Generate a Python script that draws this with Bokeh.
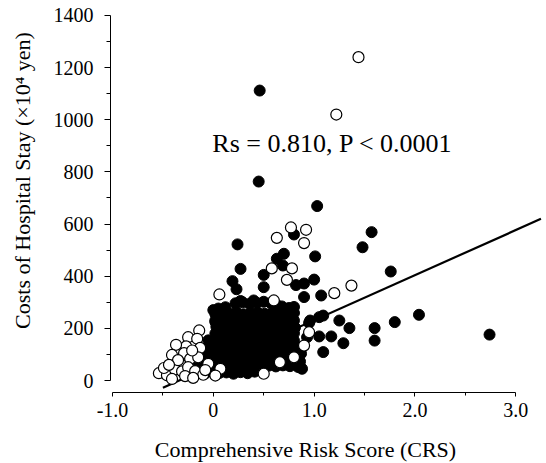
import math
from bokeh.plotting import figure
from bokeh.layouts import column, row
from bokeh.models import FixedTicker, Range1d, Label
from bokeh.embed import file_html
from bokeh.resources import INLINE

# ---- data ----
# scattered filled points
filled_crs = [
    0.46, 0.45, 1.03, 0.80, 0.24, 1.57, 1.48, 1.01, 1.76, 0.70,
    0.63, 0.69, 0.50, 0.50, 0.27, 0.19, 0.23, 0.82, 0.90, 1.00,
    1.07, 0.90, 0.00, 0.02, 0.27, 0.40, 2.04, 1.80, 1.60, 1.60,
    2.74, 1.09, 1.05, 1.25, 1.35, 1.17, 1.29, 1.09, 1.05, 0.95,
    0.86, 0.88, 0.96, 0.93, 0.86, 0.86,
]
filled_cost = [
    1112, 763, 669, 560, 522, 569, 511, 476, 418, 486,
    467, 441, 405, 358, 428, 381, 350, 366, 372, 387,
    326, 320, 270, 225, 305, 307, 252, 224, 201, 153,
    176, 249, 243, 230, 201, 169, 143, 109, 169, 221,
    73, 45, 230, 166, 109, 51,
]

# dense cluster of filled points
blob_crs = [
    0.22, 0.29, 0.36, 0.43, 0.50, 0.57, 0.62,
    0.05, 0.12, 0.68, 0.75, 0.80,
    0.02, 0.09, 0.16, 0.23, 0.30, 0.37, 0.44, 0.51, 0.58, 0.65, 0.72, 0.80,
    0.02, 0.09, 0.16, 0.23, 0.30, 0.37, 0.44, 0.51, 0.58, 0.65, 0.72, 0.80,
    0.03, 0.10, 0.17, 0.24, 0.31, 0.38, 0.45, 0.52, 0.59, 0.66, 0.73, 0.81,
    0.02, 0.09, 0.16, 0.23, 0.30, 0.37, 0.44, 0.51, 0.58, 0.65, 0.72, 0.80,
    -0.05, 0.02, 0.09, 0.16, 0.23, 0.30, 0.37, 0.44, 0.51, 0.58, 0.65, 0.72, 0.80,
    -0.05, 0.02, 0.09, 0.16, 0.23, 0.30, 0.37, 0.44, 0.51, 0.58, 0.65, 0.72, 0.80, 0.87,
    -0.05, 0.02, 0.09, 0.16, 0.23, 0.30, 0.37, 0.44, 0.51, 0.58, 0.65, 0.72, 0.80, 0.87,
    -0.15, -0.08, -0.01, 0.06, 0.13, 0.20, 0.27, 0.34, 0.41, 0.48, 0.55, 0.62, 0.69, 0.76, 0.84,
    -0.15, -0.08, -0.01, 0.06, 0.13, 0.20, 0.27, 0.34, 0.41, 0.48, 0.55, 0.62, 0.69, 0.76, 0.84,
    -0.15, -0.08, -0.01, 0.06, 0.13, 0.20, 0.27, 0.34, 0.41,
]
blob_cost = [
    296, 300, 294, 298, 302, 297, 293,
    276, 281, 284, 278, 282,
    255, 260, 257, 262, 254, 259, 261, 256, 258, 263, 255, 259,
    230, 234, 228, 233, 236, 229, 231, 235, 232, 227, 233, 230,
    206, 203, 208, 205, 201, 207, 204, 209, 202, 206, 205, 203,
    180, 177, 183, 179, 181, 176, 182, 178, 180, 184, 177, 181,
    154, 151, 156, 153, 157, 150, 155, 152, 158, 154, 151, 156, 153,
    128, 131, 125, 129, 127, 132, 126, 130, 128, 124, 131, 127, 129, 126,
    102, 99, 105, 101, 104, 98, 103, 100, 106, 102, 99, 104, 101, 103,
    76, 79, 73, 77, 80, 74, 78, 75, 81, 76, 73, 79, 77, 74, 78,
    52, 49, 55, 51, 54, 48, 53, 50, 56, 52, 57, 54, 58, 55, 52,
    30, 27, 33, 29, 31, 26, 32, 28, 34,
]

# open points
open_crs = [
    1.44, 1.22, 0.77, 0.92, 0.63, 0.90, 1.37, 1.20, 0.73, 0.78,
    0.58, 0.60, 0.06, 0.50, 0.66, 0.80, 0.90, 0.95, 0.07,
    -0.14, -0.25, -0.16, -0.13, -0.27, -0.37, -0.29, -0.41, -0.23, -0.33,
    -0.15, -0.54, -0.46, -0.49, -0.38, -0.31, -0.25, -0.18, -0.41, -0.28,
    -0.10, -0.05, 0.02, -0.21, -0.35, -0.44, -0.20, -0.08,
]
open_cost = [
    1240, 1020, 587, 578, 547, 527, 364, 335, 386, 430,
    430, 307, 330, 26, 70, 89, 134, 185, 45,
    192, 166, 160, 125, 131, 137, 105, 98, 83, 65,
    89, 28, 20, 48, 42, 35, 51, 36, 6, 17,
    22, 64, 19, 115, 78, 60, 10, 40,
]

# regression line end points
fit_crs = [-0.50, 3.25]
fit_cost = [-28, 620]

x_ticks = [-1, 0, 1, 2, 3]
x_tick_labels = ["-1.0", "0", "1.0", "2.0", "3.0"]
x_minor = [-0.5, 0.5, 1.5, 2.5]
y_ticks = [0, 200, 400, 600, 800, 1000, 1200, 1400]
y_minor = [100, 300, 500, 700, 900, 1100, 1300]

annot_text = "Rs = 0.810, P < 0.0001"
x_title = "Comprehensive Risk Score (CRS)"
y_title = "Costs of Hospital Stay (\u00d710\u2074 yen)"

FONT = "Liberation Serif"

# ---- main scatter panel ----
p = figure(width=506, height=433, output_backend="svg", toolbar_location=None,
           x_range=Range1d(-1.02, 3.305), y_range=Range1d(-46, 1419),
           min_border_left=70, min_border_right=0, min_border_top=10,
           min_border_bottom=41)
p.outline_line_color = None
p.grid.visible = False
p.background_fill_color = "white"
p.border_fill_color = "white"

p.line(fit_crs, fit_cost, line_color="black", line_width=2.2)
p.scatter(filled_crs, filled_cost, size=11, fill_color="black", line_color="black")
p.scatter(blob_crs, blob_cost, size=11, fill_color="black", line_color="black")
p.scatter(open_crs, open_cost, size=11, fill_color="white", line_color="black",
          line_width=1.2)

p.add_layout(Label(x=-0.01, y=909, text=annot_text, text_font=FONT,
                   text_font_size="26px", text_color="black",
                   text_baseline="alphabetic", text_align="left"))

xa = p.xaxis[0]
xa.ticker = FixedTicker(ticks=x_ticks, minor_ticks=x_minor)
xa.major_label_overrides = {t: l for t, l in zip(x_ticks, x_tick_labels)}
xa.bounds = (-1, 3)

ya = p.yaxis[0]
ya.ticker = FixedTicker(ticks=y_ticks, minor_ticks=y_minor)
ya.bounds = (0, 1400)

for ax in (xa, ya):
    ax.axis_line_color = "black"
    ax.axis_line_width = 1
    ax.major_tick_line_color = "black"
    ax.minor_tick_line_color = "black"
    ax.major_tick_in = 0
    ax.minor_tick_in = 0
    ax.major_label_text_font = FONT
    ax.major_label_text_font_size = "20px"
    ax.major_label_text_color = "black"

xa.major_tick_out = 4
xa.minor_tick_out = 3
xa.major_label_standoff = 6
ya.major_tick_out = 6
ya.minor_tick_out = 4
ya.major_label_standoff = 11


def title_panel(w, h):
    f = figure(width=w, height=h, output_backend="svg", toolbar_location=None,
               x_axis_location=None, y_axis_location=None,
               min_border=0, x_range=Range1d(0, 1), y_range=Range1d(0, 1))
    f.outline_line_color = None
    f.grid.visible = False
    f.background_fill_color = "white"
    f.border_fill_color = "white"
    return f


# ---- y-axis title panel (left); its frame is aligned with the main frame ----
py_ = title_panel(40, 433)
py_.add_layout(Label(x=22, y=212, x_units="screen", y_units="screen",
                     text=y_title, angle=math.pi / 2, text_font=FONT,
                     text_font_size="22px", text_color="black",
                     text_align="center", text_baseline="middle"))

# ---- x-axis title panel (bottom) ----
px_ = title_panel(546, 30)
px_.add_layout(Label(x=305, y=14, x_units="screen", y_units="screen",
                     text=x_title, text_font=FONT,
                     text_font_size="22px", text_color="black",
                     text_align="center", text_baseline="middle"))

layout = column(row(py_, p, spacing=0), px_, spacing=0)

open("out.html", "w").write(file_html(layout, INLINE))
